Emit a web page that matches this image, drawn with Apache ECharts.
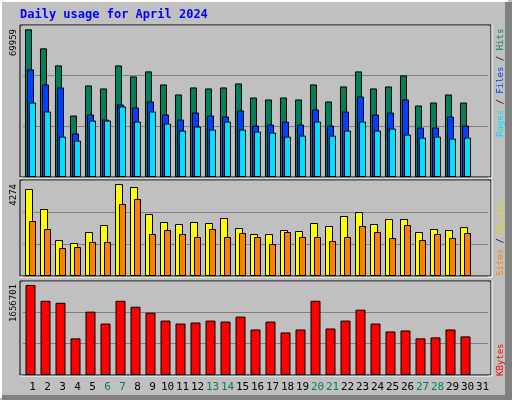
<!DOCTYPE html>
<html>
<head>
<meta charset="utf-8">
<script src="https://cdn.jsdelivr.net/npm/echarts@6/dist/echarts.min.js"></script>
<style>
html,body{margin:0;padding:0;background:#c0c0c0;}
#chart{width:512px;height:400px;}
</style>
</head>
<body>
<div id="chart"></div>
<script>
var days = [];
for (var d = 1; d <= 31; d++) days.push(String(d));
var weekend = ['6','7','13','14','20','21','27','28'];

var hits = [69959,60938,52866,29124,43369,41944,52866,47642,50016,43844,39095,42419,41944,42419,44318,
            37671,36721,37671,36721,43844,35771,42894,50016,41944,42894,48117,33872,35296,39095,35296];
var files = [50966,43844,42419,20576,29598,27224,34347,32922,35771,29598,27224,30548,29124,28649,31498,
             24375,24850,26274,24850,31973,24375,31023,38145,29598,30548,36721,23425,23425,28649,24375];
var pages = [35296,31023,19152,17253,26749,26749,33397,26274,31023,25325,22001,23900,22476,26274,22476,
             21526,21051,19152,19627,26274,19627,22001,26274,22001,22951,20102,18677,19152,18202,18677];
var visits = [4042,3113,1672,1533,2044,2369,4274,4135,2880,2509,2416,2509,2462,2695,2230,
              1951,1951,2137,2091,2462,2323,2787,2973,2416,2648,2648,2044,2184,2137,2276];
var sites = [2555,2184,1301,1347,1580,1580,3345,3577,1951,2137,1951,1812,2184,1812,1998,
             1812,1487,2044,1812,1812,1626,1812,2323,2044,1765,2369,1672,1951,1765,1998];
var kbytes = [1656701,1365413,1329002,673604,1165152,946686,1365413,1256180,1146947,1001303,946686,964892,1001303,983097,1074125,
              837453,983097,782837,837453,1365413,855659,1001303,1201563,946686,801042,819248,673604,691809,837453,710015];

var chart = echarts.init(document.getElementById('chart'));

function bar(name, data, color, w, xi, z) {
    return {
        type: 'bar', name: name, data: data, xAxisIndex: xi, yAxisIndex: xi,
        barWidth: w, barGap: '-71%', z: z, animation: false,
        itemStyle: {color: color, borderColor: '#000', borderWidth: 1}
    };
}
function yax(gi, max) {
    return {
        type: 'value', gridIndex: gi, min: 0, max: max, interval: max / 3,
        axisLabel: {show: false}, axisLine: {show: false}, axisTick: {show: false},
        splitLine: {lineStyle: {color: '#808080', width: 1}}
    };
}
function xax(gi, labels) {
    return {
        type: 'category', gridIndex: gi, data: days,
        axisLine: {show: false}, axisTick: {show: false},
        axisLabel: labels ? {
            show: true, interval: 0, margin: 7, padding: [0, 0, 0, 4],
            fontFamily: 'DejaVu Sans Mono', fontSize: 11,
            color: function (v) { return weekend.indexOf(v) >= 0 ? '#00805c' : '#000'; }
        } : {show: false}
    };
}
function frame(y, h) {
    return [
        {type: 'rect', shape: {x: 20, y: y, width: 471, height: h}, style: {fill: '#c0c0c0', stroke: '#000', lineWidth: 1}, z: -10, silent: true},
        {type: 'polyline', shape: {points: [[20, y + h + 1], [492, y + h + 1], [492, y]]}, style: {stroke: '#fff', lineWidth: 1, fill: null}, z: -10, silent: true}
    ];
}
function vtext(x, y, rich, str, align) {
    return {type: 'text', x: x, y: y, rotation: Math.PI / 2, z: 10,
        style: {text: str, rich: rich, align: align, verticalAlign: 'middle',
                fontFamily: 'DejaVu Sans Mono', fontSize: 9, fill: '#000'}};
}

var g = [
    {type: 'rect', shape: {x: 0, y: 0, width: 512, height: 400}, style: {fill: '#c0c0c0'}, z: -20, silent: true},
    {type: 'polyline', shape: {points: [[1, 398], [1, 1], [508, 1]]}, style: {stroke: '#fff', lineWidth: 2, fill: null}, z: -20},
    {type: 'rect', shape: {x: 505, y: 2, width: 7, height: 398}, style: {fill: '#808080'}, z: -20},
    {type: 'rect', shape: {x: 2, y: 395, width: 510, height: 5}, style: {fill: '#808080'}, z: -20},
    {type: 'text', x: 20, y: 15, z: 10, style: {text: 'Daily usage for April 2024', fill: '#0000ff',
        fontFamily: 'DejaVu Sans Mono', fontWeight: 'bold', fontSize: 12, verticalAlign: 'middle'}}
];
g = g.concat(frame(25, 152), frame(180, 96), frame(281, 94));
g.push(vtext(14, 29, null, '69959', 'right'));
g.push(vtext(14, 184, null, '4274', 'right'));
g.push(vtext(14, 284, null, '1656701', 'right'));
g.push(vtext(501, 137, {p: {fill: '#00e0ff'}, f: {fill: '#0040ff'}, h: {fill: '#00805c'}, s: {fill: '#000'}},
    '{p|Pages}{s| / }{f|Files}{s| / }{h|Hits}', 'left'));
g.push(vtext(501, 276, {a: {fill: '#ff8000'}, b: {fill: '#e0e000'}, s: {fill: '#000'}},
    '{a|Sites}{s| / }{b|Visits}', 'left'));
g.push(vtext(501, 376, {k: {fill: '#ff0000'}}, '{k|KBytes}', 'left'));

chart.setOption({
    animation: false,
    grid: [
        {left: 23, right: 24, top: 25, height: 152},
        {left: 23, right: 24, top: 180, height: 96},
        {left: 23, right: 24, top: 281, height: 94}
    ],
    xAxis: [xax(0, false), xax(1, false), xax(2, true)],
    yAxis: [yax(0, 71999), yax(1, 4461), yax(2, 1729524)],
    series: [
        bar('Hits', hits, '#00805c', 7, 0, 2),
        bar('Files', files, '#0040ff', 7, 0, 3),
        bar('Pages', pages, '#00e0ff', 7, 0, 4),
        bar('Visits', visits, '#ffff00', 8, 1, 2),
        Object.assign(bar('Sites', sites, '#ff8000', 7, 1, 3), {barGap: '-50%'}),
        bar('KBytes', kbytes, '#ff0000', 10, 2, 2)
    ],
    graphic: g
});
</script>
</body>
</html>
